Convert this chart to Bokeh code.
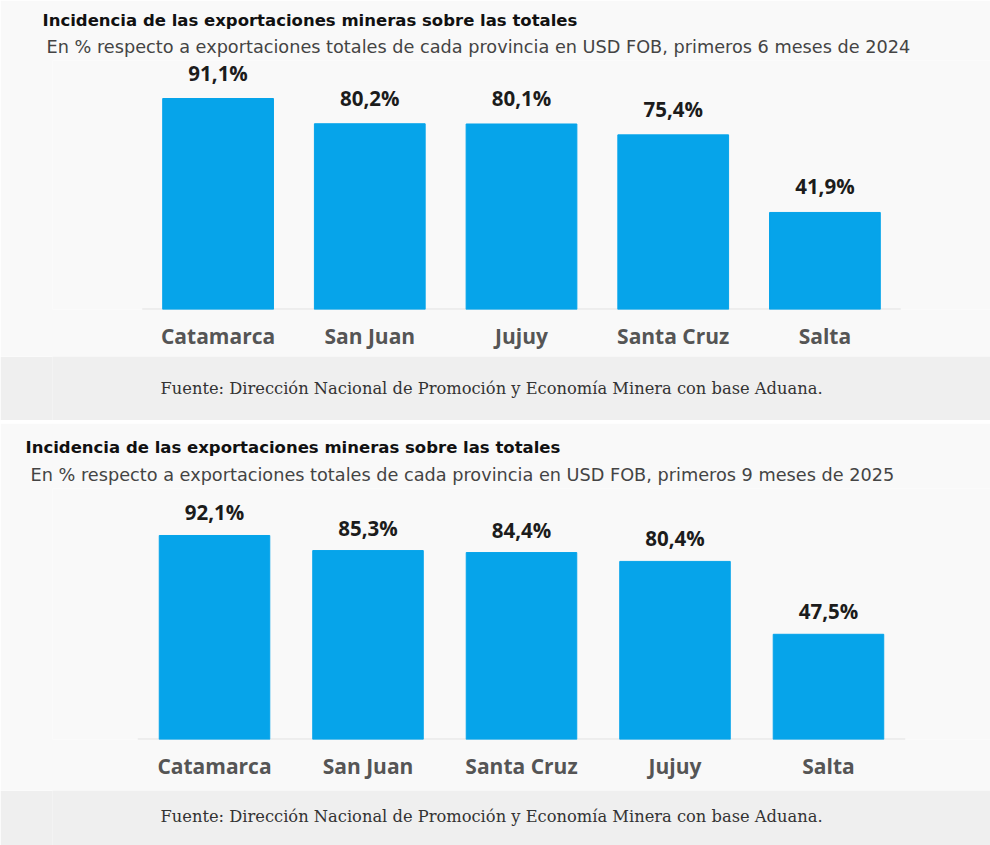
from bokeh.plotting import figure
from bokeh.models import ColumnDataSource, Title, Range1d, Spacer, FactorRange
from bokeh.layouts import column
from bokeh.core.properties import value
from bokeh.embed import file_html
from bokeh.resources import INLINE

# ---- data ----
title_text = "Incidencia de las exportaciones mineras sobre las totales"
subtitle_2024 = "En % respecto a exportaciones totales de cada provincia en USD FOB, primeros 6 meses de 2024"
subtitle_2025 = "En % respecto a exportaciones totales de cada provincia en USD FOB, primeros 9 meses de 2025"
source_text = "Fuente: Dirección Nacional de Promoción y Economía Minera con base Aduana."

cats_2024 = ["Catamarca", "San Juan", "Jujuy", "Santa Cruz", "Salta"]
vals_2024 = [91.1, 80.2, 80.1, 75.4, 41.9]

cats_2025 = ["Catamarca", "San Juan", "Santa Cruz", "Jujuy", "Salta"]
vals_2025 = [92.1, 85.3, 84.4, 80.4, 47.5]

BG = "#f9f9f9"
BAND = "#efefef"
BAR = "#06a4ea"
SANS = "Open Sans"
HEAD = "DejaVu Sans"
W = 990
LEFT = 52  # frame left edge (frame runs to the right canvas edge)


def fmt(v):
    return f"{v:.1f}".replace(".", ",") + "%"


def chart(cats, vals, subtitle, height, top, bottom, side, px_per_unit, bar_w,
          lab_off, tx, sx, t_standoff, s_standoff):
    frame_h = height - bottom - top
    src = ColumnDataSource(dict(cat=cats, val=vals, lab=[fmt(v) for v in vals]))
    xr = FactorRange(factors=cats, range_padding=side, range_padding_units="absolute")
    p = figure(width=W, height=height, x_range=xr,
               y_range=Range1d(0, frame_h / px_per_unit),
               output_backend="svg", toolbar_location=None, y_axis_location=None,
               min_border_left=LEFT, min_border_right=0,
               min_border_top=top, min_border_bottom=bottom,
               background_fill_color=BG, border_fill_color=BG,
               outline_line_color=None)
    p.segment(x0=[(cats[0], -0.5)], x1=[(cats[-1], 0.5)], y0=[0], y1=[0],
              line_color="#e2e2e2", line_width=2)
    p.vbar(x="cat", top="val", width=bar_w, source=src, color=BAR)
    p.text(x="cat", y="val", text="lab", source=src, text_align="center",
           text_baseline="bottom", y_offset=lab_off, text_font=value(SANS),
           text_font_style="bold", text_font_size="20.5px", text_color="#1c1c1c")
    p.xgrid.visible = False
    p.ygrid.visible = False
    ax = p.xaxis[0]
    ax.axis_line_color = None
    ax.major_tick_line_color = None
    ax.minor_tick_line_color = None
    ax.major_tick_out = 0
    ax.major_tick_in = 0
    ax.major_label_standoff = 12
    ax.major_label_text_font = SANS
    ax.major_label_text_font_style = "bold"
    ax.major_label_text_font_size = "21px"
    ax.major_label_text_color = "#555555"
    # subtitle first (closest to the frame), then the main title above it
    p.add_layout(Title(text=subtitle, align="left", offset=sx - LEFT,
                       standoff=s_standoff, text_font=HEAD,
                       text_font_style="normal", text_font_size="17.7px",
                       text_color="#444444"), "above")
    p.add_layout(Title(text=title_text, align="left", offset=tx - LEFT,
                       standoff=t_standoff, text_font=HEAD,
                       text_font_style="bold", text_font_size="16.5px",
                       text_color="#111111"), "above")
    return p


def footer(height, ty):
    f = figure(width=W, height=height, x_range=Range1d(LEFT, W),
               y_range=Range1d(height, 0), output_backend="svg",
               toolbar_location=None, x_axis_location=None, y_axis_location=None,
               min_border_left=LEFT, min_border_right=0,
               min_border_top=0, min_border_bottom=0,
               background_fill_color=BAND, border_fill_color=BAND,
               outline_line_color=None)
    f.xgrid.visible = False
    f.ygrid.visible = False
    f.text(x=[160], y=[ty], text=[source_text], text_font=value("DejaVu Serif"),
           text_font_size="16.3px", text_color="#333333", text_align="left",
           text_baseline="middle")
    return f


p1 = chart(cats_2024, vals_2024, subtitle_2024, 356, 60, 47, 0.5915, 2.316, 0.73,
           -12, 42, 46, 3, 7)
f1 = footer(64, 32)
gap = Spacer(width=W, height=3)
p2 = chart(cats_2025, vals_2025, subtitle_2025, 367, 65, 51, 0.5555, 2.215, 0.72,
           -9, 25, 30, 6, 7)
f2 = footer(55, 26)

layout = column(p1, f1, gap, p2, f2, spacing=0)
open("out.html", "w").write(file_html(layout, INLINE))
